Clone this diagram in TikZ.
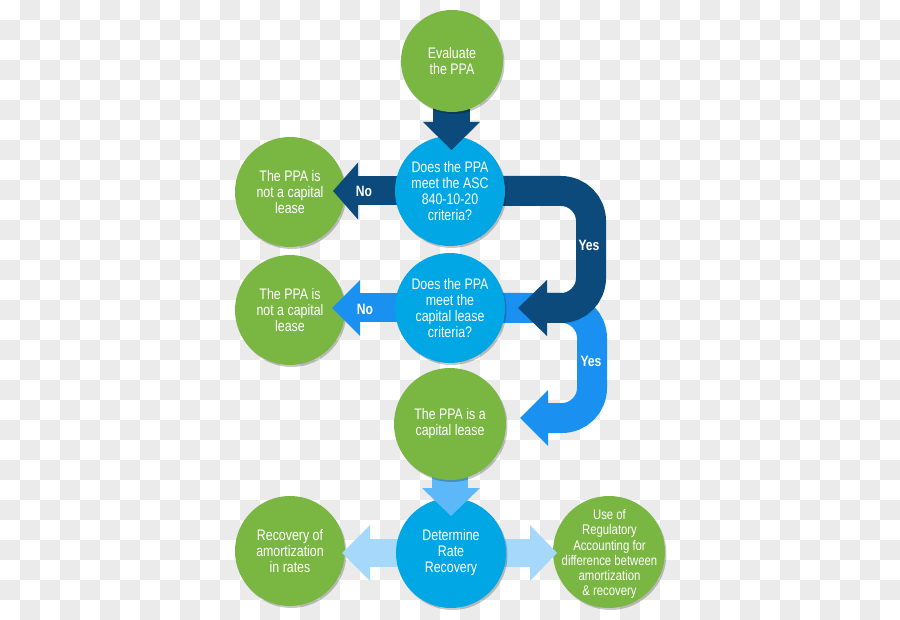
\documentclass[tikz,border=0pt]{standalone}
\usepackage{fontspec}
\setmainfont{Liberation Sans}[FakeStretch=0.81]
\usetikzlibrary{calc,shadows}
\definecolor{chk}{RGB}{235,235,235}
\definecolor{cgreen}{RGB}{122,182,66}
\definecolor{cqblue}{RGB}{0,167,228}
\definecolor{cnavy}{RGB}{12,74,123}
\definecolor{cblue}{RGB}{26,145,240}
\definecolor{clblue}{RGB}{92,184,248}
\definecolor{cpale}{RGB}{165,216,251}
\begin{document}
\begin{tikzpicture}[x=1pt,y=-1pt,
  bub/.style={circle, minimum size=110pt, inner sep=0pt, align=center, text=white,
    font=\fontsize{15.3}{16}\selectfont,
    drop shadow={shadow xshift=1.5pt, shadow yshift=-2pt, opacity=0.22, fill=black}},
  gbub/.style={bub, fill=cgreen},
  qbub/.style={bub, fill=cqblue},
  btxt/.style={align=center, text=white, inner sep=0pt, font=\fontsize{14}{15.2}\selectfont},
  lbl/.style={text=white, font=\bfseries\fontsize{15}{16}\selectfont, inner sep=0pt}
]
\useasboundingbox (0,0) rectangle (900,620);
\fill[white] (0,0) rectangle (900,620);
\foreach \j in {0,2,...,30}{\foreach \i in {1,3,...,43}{\fill[chk] (\i*20,\j*20) rectangle ++(20,20);}}
\foreach \j in {1,3,...,29}{\foreach \i in {0,2,...,44}{\fill[chk] (\i*20,\j*20) rectangle ++(20,20);}}

% centre coordinates
\coordinate (evc) at (452,61);
\coordinate (q1c) at (450,191);
\coordinate (q2c) at (450,308);
\coordinate (clc) at (450,424);
\coordinate (drc) at (451,553);

% outer green circles
\node[gbub] (l1) at (290,192) {The PPA is\\not a capital\\lease};
\node[gbub] (l2) at (290,310) {The PPA is\\not a capital\\lease};
\node[gbub] (ra) at (290,551) {Recovery of\\amortization\\in rates};
\node[gbub, minimum size=112pt] (ur) at (609,552) {};
\node[btxt] (urt) at ($(ur)+(0.5,2)$) {Use of\\Regulatory\\Accounting for\\difference between\\amortization\\\& recovery};

% light blue "Yes" U-arrow
\draw[cblue, line width=30pt, rounded corners=30pt]
  (q2c) -- ($(q2c)+(142,0)$) -- ($(q2c)+(142,110)$) -- ($(clc)+(96,-6)$);
\fill[cblue] ($(clc)+(98,-34)$) -- ($(clc)+(70,-6)$) -- ($(clc)+(98,22)$) -- cycle;

% navy "Yes" U-arrow
\draw[cnavy, line width=30pt, rounded corners=30pt]
  (q1c) -- ($(q1c)+(141,0)$) -- ($(q1c)+(141,117)$) -- ($(q2c)+(95,0)$);
\fill[cnavy] ($(q2c)+(97,-28)$) -- ($(q2c)+(68,0)$) -- ($(q2c)+(97,28)$) -- cycle;

% navy "No" arrow
\fill[cnavy] ($(q1c)+(0,-14.5)$) rectangle ($(l1)+(66,13.5)$);
\fill[cnavy] ($(l1)+(68,-29.5)$) -- ($(l1)+(43,-1)$) -- ($(l1)+(68,27.5)$) -- cycle;

% blue "No" arrow
\fill[cblue] ($(q2c)+(0,-14.5)$) rectangle ($(l2)+(68,12.5)$);
\fill[cblue] ($(l2)+(70,-30)$) -- ($(l2)+(42,-2)$) -- ($(l2)+(70,26)$) -- cycle;

% pale double arrows
\fill[cpale] ($(drc)+(0,-14)$) rectangle ($(ra)+(78,16)$);
\fill[cpale] ($(ra)+(80,-26)$) -- ($(ra)+(52,2)$) -- ($(ra)+(80,30)$) -- cycle;
\fill[cpale] ($(drc)+(0,-14)$) rectangle ($(ur)+(-77,15)$);
\fill[cpale] ($(ur)+(-79,-27)$) -- ($(ur)+(-52,1)$) -- ($(ur)+(-79,29)$) -- cycle;

% question circles and rate circle
\node[qbub] (q1) at (q1c) {Does the PPA\\meet the ASC\\840-10-20\\criteria?};
\node[qbub] (q2) at (q2c) {Does the PPA\\meet the\\capital lease\\criteria?};
\node[qbub] (dr) at (drc) {Determine\\Rate\\Recovery};

% navy down arrow
\fill[cnavy] ($(evc)+(-19,30)$) rectangle ($(evc)+(18,63)$);
\fill[cnavy] ($(q1)+(-27,-69)$) -- ($(q1)+(1.5,-41)$) -- ($(q1)+(30,-69)$) -- cycle;
\node[gbub, minimum size=102pt] (ev) at (evc) {Evaluate\\the PPA};

% light blue down arrow
\fill[clblue] ($(clc)+(-18,30)$) rectangle ($(clc)+(18,65)$);
\fill[clblue] ($(dr)+(-29,-65)$) -- ($(dr)+(0,-37)$) -- ($(dr)+(29,-65)$) -- cycle;
\node[gbub, minimum size=112pt] (cl) at (clc) {The PPA is a\\capital lease};

% labels
\node[lbl] (no1) at (364,191) {No};
\node[lbl] (no2) at (365,309) {No};
\node[lbl] (yes1) at (589,245) {Yes};
\node[lbl] (yes2) at (591,361) {Yes};
\end{tikzpicture}
\end{document}
